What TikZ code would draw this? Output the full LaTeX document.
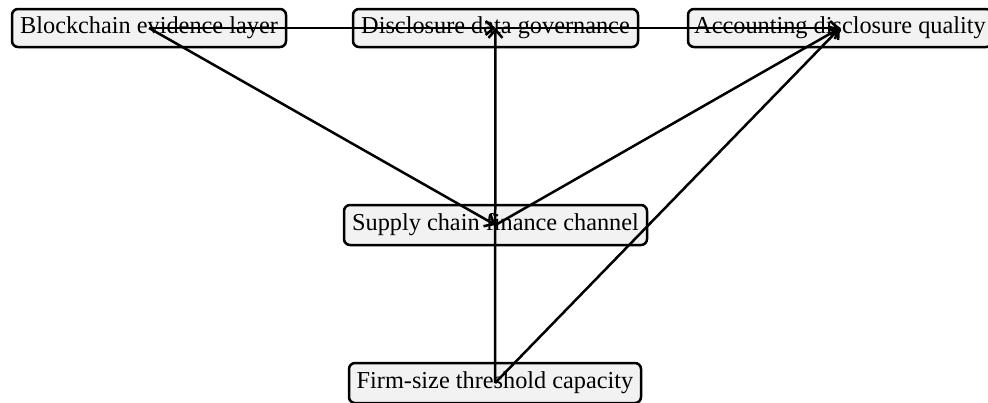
\documentclass[tikz,border=0pt]{standalone}
\usepackage{fontspec}
\setmainfont{Liberation Serif}
\usetikzlibrary{arrows.meta}
\begin{document}
\begin{tikzpicture}[x=1pt,y=-1pt,
  box/.style={draw=black, line width=2.5pt, rounded corners=6pt, fill=gray!10,
    minimum height=38pt, inner sep=0pt, font=\fontsize{24.3}{26}\selectfont},
  link/.style={line width=2.5pt, -{Straight Barb[length=8pt,width=14pt,line width=2.5pt]}}]
  \useasboundingbox (0,0) rectangle (988,402);
  % nodes
  \node[box, minimum width=274pt] (chain) at (149,28) {Blockchain evidence layer};
  \node[box, minimum width=285pt] (gov) at (495.5,28) {Disclosure data governance};
  \node[box, minimum width=304pt] (qual) at (840,28) {Accounting disclosure quality};
  \node[box, minimum width=303pt, minimum height=40pt] (scf) at (495.5,225) {Supply chain finance channel};
  \node[box, minimum width=292pt, minimum height=40pt] (firm) at (495,383) {Firm-size threshold capacity};
  % connectors, drawn centre to centre over the boxes
  \draw[link] (chain.center) -- (gov.center);
  \draw[link] (gov.center) -- (qual.center);
  \draw[link] (chain.center) -- (scf.center);
  \draw[link] (scf.center) -- (qual.center);
  \draw[link] (firm.center) -- (gov.center);
  \draw[link] (firm.center) -- (qual.center);
\end{tikzpicture}
\end{document}
